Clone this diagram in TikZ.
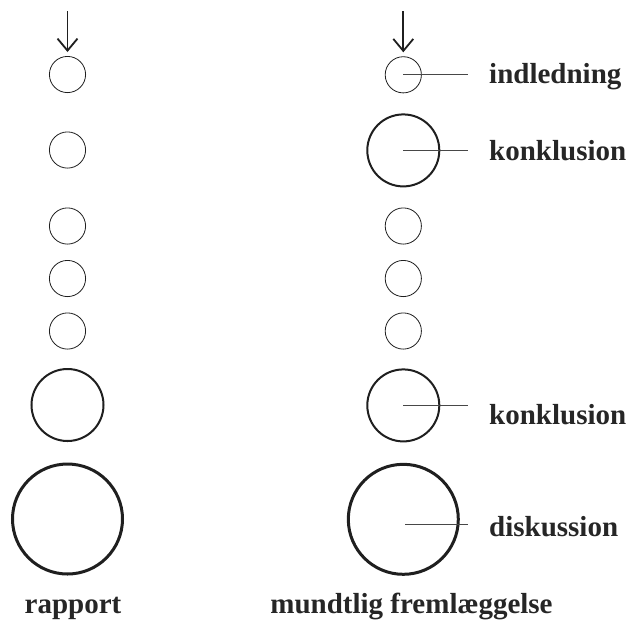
\documentclass[tikz,border=0pt]{standalone}
\usepackage{fontspec}
\setmainfont{Liberation Serif}
\usetikzlibrary{arrows.meta}
\tikzset{
  thinc/.style={circle,draw=black!88,line width=0.8pt,minimum size=36.2pt,inner sep=0pt},
  medc/.style={circle,draw=black!88,line width=2pt,minimum size=72pt,inner sep=0pt},
  bigc/.style={circle,draw=black!88,line width=3pt,minimum size=110pt,inner sep=0pt},
  arrowline/.style={line width=1.8pt,draw=black!88,-{Straight Barb[length=12pt,width=20pt]},shorten >=4pt},
  leader/.style={line width=0.8pt,draw=black!72},
  lab/.style={anchor=base west,inner sep=0pt,font=\fontsize{29}{34}\selectfont\bfseries,text=black!85},
  title/.style={anchor=base,inner sep=0pt,font=\fontsize{29}{34}\selectfont\bfseries,text=black!85}
}
\begin{document}
\begin{tikzpicture}[x=1pt,y=-1pt]
\useasboundingbox (0,0) rectangle (631,622);
% left column
\node[thinc] (l1) at (67.5,74.5) {};
\node[thinc] (l2) at (67.5,150) {};
\node[thinc] (l3) at (67.5,226) {};
\node[thinc] (l4) at (67.5,278.5) {};
\node[thinc] (l5) at (67.5,331) {};
\node[medc] (l6) at (67.5,405) {};
\node[bigc] (l7) at (67.5,519) {};
\coordinate (la) at (67.5,11);
\draw[arrowline] (la) -- (l1);
\node[title] (rapport) at (73,613) {rapport};
% right column
\node[thinc] (r1) at (403.3,74.8) {};
\node[medc] (r2) at (403.3,150.4) {};
\node[thinc] (r3) at (403.3,226) {};
\node[thinc] (r4) at (403.3,278.5) {};
\node[thinc] (r5) at (403.3,331) {};
\node[medc] (r6) at (403.3,405.4) {};
\node[bigc] (r7) at (403.3,519.3) {};
\coordinate (ra) at (403.3,11);
\draw[arrowline] (ra) -- (r1);
\node[title] (mundtlig) at (411.5,613) {mundtlig fremlæggelse};
% labels
\node[lab] (t1) at (489,83.3) {indledning};
\node[lab] (t2) at (489,160) {konklusion};
\node[lab] (t6) at (489,424.3) {konklusion};
\node[lab] (t7) at (489,536.7) {diskussion};
\coordinate (f1) at (468.3,74.8);
\coordinate (f2) at (468.3,150.4);
\coordinate (f6) at (468.3,405.4);
\coordinate (e7) at (405,524.3);
\coordinate (f7) at (468.3,524.3);
\draw[leader] (r1.center) -- (f1);
\draw[leader] (r2.center) -- (f2);
\draw[leader] (r6.center) -- (f6);
\draw[leader] (e7) -- (f7);
\end{tikzpicture}
\end{document}
